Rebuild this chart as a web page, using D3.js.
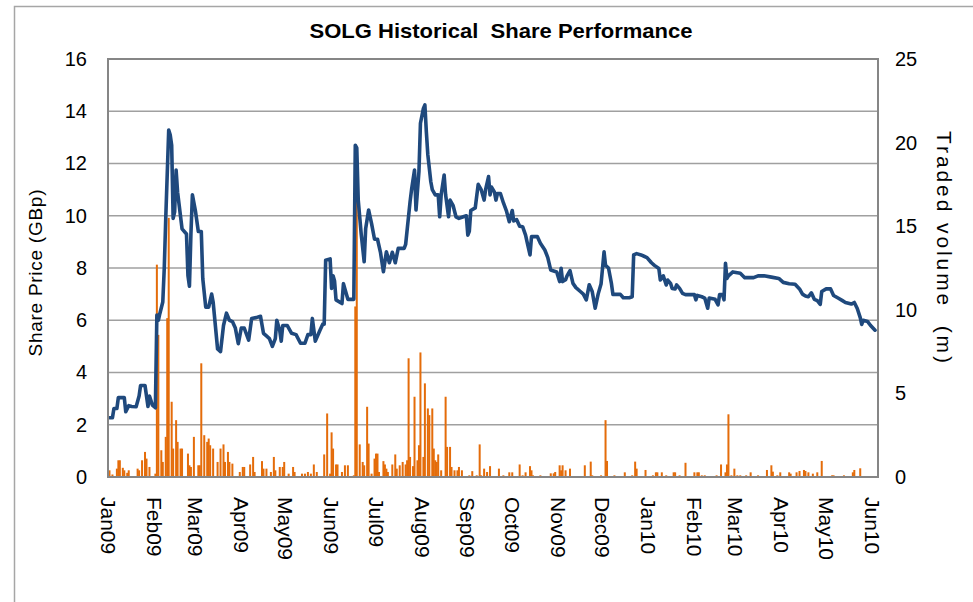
<!DOCTYPE html>
<html><head><meta charset="utf-8">
<script src="https://cdn.jsdelivr.net/npm/d3@7"></script>
<style>
html,body{margin:0;padding:0;background:#fff;}
svg{display:block;}
text{font-family:"Liberation Sans",Arial,sans-serif;fill:#000;white-space:pre;}
</style></head>
<body>
<svg id="c" width="973" height="602"></svg>
<script>
const chartTitle = "SOLG Historical  Share Performance";
const leftTitle = "Share Price (GBp)";
const rightTitle = "Traded volume  (m)";
const priceTicks = [0,2,4,6,8,10,12,14,16];
const volumeTicks = [0,5,10,15,20,25];
const monthTicks = ["2009-01-01","2009-02-01","2009-03-01","2009-04-01","2009-05-01","2009-06-01","2009-07-01","2009-08-01","2009-09-01","2009-10-01","2009-11-01","2009-12-01","2010-01-01","2010-02-01","2010-03-01","2010-04-01","2010-05-01","2010-06-01"];

const priceDates = ["2009-01-02","2009-01-04","2009-01-05","2009-01-07","2009-01-08","2009-01-12","2009-01-13","2009-01-15","2009-01-17","2009-01-20","2009-01-22","2009-01-23","2009-01-26","2009-01-28","2009-01-29","2009-01-31",
"2009-02-02","2009-02-03","2009-02-04","2009-02-05","2009-02-07","2009-02-08","2009-02-09","2009-02-11","2009-02-12","2009-02-13","2009-02-14","2009-02-15","2009-02-16","2009-02-17","2009-02-20","2009-02-23","2009-02-24","2009-02-25","2009-02-26","2009-02-27",
"2009-03-01","2009-03-03","2009-03-05","2009-03-06","2009-03-08","2009-03-10","2009-03-12","2009-03-13","2009-03-16","2009-03-18","2009-03-20","2009-03-22","2009-03-24","2009-03-26","2009-03-28","2009-03-30",
"2009-04-01","2009-04-03","2009-04-06","2009-04-08","2009-04-11","2009-04-14","2009-04-16","2009-04-18","2009-04-20","2009-04-22","2009-04-24","2009-04-25","2009-04-27","2009-04-28","2009-04-29",
"2009-05-02","2009-05-05","2009-05-08","2009-05-11","2009-05-14","2009-05-16","2009-05-18","2009-05-19","2009-05-21","2009-05-24","2009-05-26","2009-05-27","2009-05-28","2009-05-31",
"2009-06-01","2009-06-02","2009-06-03","2009-06-04","2009-06-08","2009-06-09","2009-06-10","2009-06-12","2009-06-16","2009-06-17","2009-06-18","2009-06-19","2009-06-21","2009-06-23","2009-06-24","2009-06-26","2009-06-28","2009-06-30",
"2009-07-02","2009-07-04","2009-07-06","2009-07-08","2009-07-10","2009-07-12","2009-07-14","2009-07-16","2009-07-20","2009-07-21","2009-07-24","2009-07-25","2009-07-27","2009-07-28","2009-07-30","2009-07-31",
"2009-08-02","2009-08-03","2009-08-04","2009-08-05","2009-08-07","2009-08-08","2009-08-10","2009-08-12","2009-08-13","2009-08-14","2009-08-16","2009-08-17","2009-08-19","2009-08-20","2009-08-22","2009-08-24","2009-08-26","2009-08-29","2009-08-31",
"2009-09-01","2009-09-02","2009-09-03","2009-09-06","2009-09-08","2009-09-10","2009-09-12","2009-09-13","2009-09-15","2009-09-16","2009-09-17","2009-09-19","2009-09-20","2009-09-21","2009-09-23","2009-09-25","2009-09-27","2009-09-29",
"2009-10-01","2009-10-02","2009-10-04","2009-10-06","2009-10-08","2009-10-10","2009-10-11","2009-10-13","2009-10-14","2009-10-18","2009-10-20","2009-10-23","2009-10-25","2009-10-27","2009-10-31",
"2009-11-02","2009-11-03","2009-11-04","2009-11-06","2009-11-07","2009-11-09","2009-11-11","2009-11-13","2009-11-16","2009-11-18","2009-11-20","2009-11-22","2009-11-24","2009-11-26","2009-11-28","2009-11-30",
"2009-12-02","2009-12-03","2009-12-05","2009-12-07","2009-12-08","2009-12-13","2009-12-15","2009-12-19","2009-12-21","2009-12-22","2009-12-24","2009-12-27","2009-12-29","2009-12-31",
"2010-01-03","2010-01-05","2010-01-08","2010-01-09","2010-01-11","2010-01-13","2010-01-14","2010-01-16","2010-01-17","2010-01-19","2010-01-20","2010-01-22","2010-01-24","2010-01-26",
"2010-02-01","2010-02-02","2010-02-03","2010-02-06","2010-02-08","2010-02-10","2010-02-11","2010-02-15","2010-02-17","2010-02-18","2010-02-20","2010-02-21","2010-02-22","2010-02-23","2010-02-24","2010-02-27",
"2010-03-04","2010-03-07","2010-03-13","2010-03-16","2010-03-20","2010-03-25","2010-03-30",
"2010-04-02","2010-04-06","2010-04-10","2010-04-13","2010-04-15","2010-04-17","2010-04-19","2010-04-21","2010-04-23","2010-04-25","2010-04-27","2010-04-28",
"2010-05-01","2010-05-04","2010-05-06","2010-05-09","2010-05-12","2010-05-14","2010-05-18","2010-05-20","2010-05-22","2010-05-24","2010-05-25","2010-05-26","2010-05-29","2010-05-31","2010-06-03"];

const priceValues = [2.27,2.27,2.62,2.62,3.04,3.04,2.5,2.73,2.7,2.69,3.1,3.5,3.5,2.7,3.1,2.75,
2.65,6.2,6.0,6.25,6.7,8.0,9.9,13.28,13.1,12.7,9.9,10.15,11.75,10.9,9.5,9.3,7.7,7.3,9.3,10.8,
10.2,9.4,9.4,7.6,6.5,6.5,7.0,6.7,4.9,4.8,5.8,6.27,6.0,5.95,5.7,5.1,
5.7,5.7,5.24,6.07,6.1,6.15,5.5,5.4,5.3,5.0,5.3,6.0,5.6,5.2,5.8,
5.8,5.5,5.45,5.12,5.12,5.45,5.45,6.07,5.2,5.6,5.85,5.85,8.3,8.35,
7.22,7.7,7.5,6.78,6.64,7.4,7.2,6.8,6.8,12.7,12.6,10.6,9.3,8.24,9.5,10.22,9.7,9.1,
9.1,8.6,7.86,8.62,8.2,8.6,8.2,8.75,8.75,8.9,10.54,11.0,11.75,10.22,11.7,13.54,
14.11,14.24,13.2,12.33,11.3,11.0,10.8,10.8,9.96,10.8,11.56,10.8,9.96,10.6,10.4,9.96,9.9,9.96,10.0,
9.26,9.4,10.2,10.3,11.2,11.0,10.6,11.0,11.5,10.8,11.1,10.9,10.6,10.85,10.85,10.5,10.2,9.77,
10.2,9.8,9.85,9.6,9.58,9.26,9.0,8.5,9.2,9.2,8.95,8.69,8.4,7.92,7.85,
7.48,7.99,7.48,7.55,7.7,7.9,7.41,7.25,7.1,7.0,6.78,7.36,7.1,6.46,7.0,7.4,
8.62,8.1,8.0,7.4,6.99,6.99,6.86,6.86,6.9,8.5,8.55,8.5,8.45,8.4,
8.2,8.1,7.98,7.54,7.7,7.35,7.54,7.4,7.22,7.2,7.35,7.22,7.03,6.98,
6.98,6.78,6.95,6.9,6.85,6.46,6.85,6.8,6.59,6.98,6.98,6.78,8.18,7.6,7.7,7.85,
7.8,7.63,7.63,7.7,7.7,7.65,7.6,
7.45,7.4,7.38,7.2,7.0,6.93,6.9,7.05,6.8,6.75,6.61,7.1,
7.2,7.2,6.95,6.85,6.75,6.68,6.62,6.68,6.45,6.1,5.84,6.0,5.95,5.8,5.62];

const volumeDates = ["2009-01-02","2009-01-04","2009-01-07","2009-01-08","2009-01-09","2009-01-11","2009-01-12","2009-01-14","2009-01-15","2009-01-21","2009-01-22","2009-01-24","2009-01-26","2009-01-27","2009-01-29",
"2009-02-02","2009-02-03","2009-02-04","2009-02-06","2009-02-07","2009-02-09","2009-02-10","2009-02-11","2009-02-13","2009-02-14","2009-02-16","2009-02-17","2009-02-19","2009-02-20","2009-02-24","2009-02-25","2009-02-26","2009-02-28",
"2009-03-03","2009-03-04","2009-03-05","2009-03-07","2009-03-09","2009-03-10","2009-03-11","2009-03-13","2009-03-16","2009-03-18","2009-03-20","2009-03-21","2009-03-23","2009-03-24","2009-03-26","2009-03-31",
"2009-04-02","2009-04-03","2009-04-07","2009-04-09","2009-04-10","2009-04-15","2009-04-16","2009-04-18","2009-04-21","2009-04-23","2009-04-24","2009-04-27","2009-04-29","2009-04-30",
"2009-05-03","2009-05-06","2009-05-07","2009-05-12","2009-05-14","2009-05-16","2009-05-18","2009-05-20","2009-05-22","2009-05-27","2009-05-29","2009-05-31",
"2009-06-01","2009-06-02","2009-06-04","2009-06-05","2009-06-08","2009-06-10","2009-06-12","2009-06-16","2009-06-17","2009-06-18","2009-06-20","2009-06-22","2009-06-23","2009-06-25","2009-06-26","2009-06-28","2009-06-30",
"2009-07-01","2009-07-02","2009-07-03","2009-07-06","2009-07-07","2009-07-08","2009-07-09","2009-07-12","2009-07-14","2009-07-15","2009-07-17","2009-07-19","2009-07-21","2009-07-22","2009-07-23","2009-07-24","2009-07-26","2009-07-27","2009-07-29","2009-07-30","2009-07-31",
"2009-08-02","2009-08-03","2009-08-05","2009-08-06","2009-08-08","2009-08-09","2009-08-10","2009-08-11","2009-08-12","2009-08-14","2009-08-17","2009-08-18","2009-08-20","2009-08-21","2009-08-23","2009-08-25","2009-08-26","2009-08-28",
"2009-09-02","2009-09-04","2009-09-07","2009-09-09","2009-09-10","2009-09-12","2009-09-14","2009-09-16","2009-09-22","2009-09-25","2009-09-29",
"2009-10-01","2009-10-06","2009-10-08","2009-10-10","2009-10-13","2009-10-14","2009-10-15","2009-10-20","2009-10-27","2009-10-29","2009-10-30",
"2009-11-02","2009-11-03","2009-11-04","2009-11-06","2009-11-09","2009-11-19","2009-11-23","2009-11-24","2009-11-30",
"2009-12-03","2009-12-04","2009-12-09","2009-12-16","2009-12-21","2009-12-23","2009-12-24","2009-12-30",
"2010-01-04","2010-01-06","2010-01-07","2010-01-10","2010-01-13","2010-01-18","2010-01-19","2010-01-22","2010-01-26",
"2010-02-01","2010-02-03","2010-02-04","2010-02-06","2010-02-08","2010-02-16","2010-02-19","2010-02-22","2010-02-23","2010-02-24","2010-02-26","2010-02-28",
"2010-03-02","2010-03-04","2010-03-08","2010-03-11","2010-03-16","2010-03-22","2010-03-25","2010-03-26","2010-03-29","2010-03-31",
"2010-04-06","2010-04-07","2010-04-11","2010-04-13","2010-04-16","2010-04-17","2010-04-19","2010-04-22","2010-04-25","2010-04-28",
"2010-05-05","2010-05-06","2010-05-13","2010-05-19","2010-05-20","2010-05-24"];

const volumeValues = [0.4,0.15,0.5,1.0,1.0,0.55,0.4,0.25,0.4,0.5,0.4,1.0,1.5,1.1,0.6,
0.2,12.7,8.5,1.6,0.9,2.4,9.5,15.5,4.5,1.7,3.4,2.1,1.7,1.7,1.4,0.7,0.6,2.4,
0.7,0.7,6.8,2.5,2.1,2.3,1.9,1.7,0.9,1.7,1.95,0.9,1.5,0.9,0.8,0.3,
0.6,0.6,0.75,1.2,0.3,0.95,0.5,0.5,0.3,1.2,0.4,0.6,0.6,0.9,
0.2,0.6,0.3,0.2,0.2,0.3,0.2,0.75,0.3,1.35,3.8,0.2,
2.67,1.7,0.75,0.75,0.3,0.7,0.7,0.1,10.2,19.66,1.95,0.9,0.7,4.2,2.0,0.2,1.1,
1.4,1.4,0.3,0.95,0.75,0.5,0.3,0.75,1.35,0.5,0.7,0.9,0.75,1.0,7.1,1.2,0.65,4.8,1.0,1.9,7.45,
1.2,5.6,4.1,3.7,4.1,1.7,1.0,0.9,1.35,0.4,4.8,1.8,1.8,0.6,0.4,0.4,0.6,0.4,
0.1,0.35,0.1,1.95,0.1,0.5,0.3,0.65,0.5,0.1,0.28,
0.28,0.75,0.1,0.28,0.65,0.4,0.1,0.1,0.22,0.22,0.3,
0.7,0.4,0.7,0.4,0.5,0.7,0.92,0.1,0.1,
3.4,0.96,0.1,0.28,0.1,0.92,0.5,0.42,
0.1,0.28,0.28,0.28,0.1,0.28,0.28,0.1,0.85,
0.28,0.28,0.28,0.1,0.1,0.1,0.75,0.28,0.75,3.75,0.1,0.5,
0.1,0.1,0.1,0.28,0.1,0.42,0.7,0.32,0.1,0.28,
0.28,0.2,0.28,0.36,0.42,0.36,0.28,0.2,0.28,0.96,
0.1,0.1,0.1,0.28,0.42,0.52];

const parse = d3.utcParse("%Y-%m-%d");
const price = priceDates.map((d,i)=>({date:parse(d), v:priceValues[i]}));
const volume = volumeDates.map((d,i)=>({date:parse(d), v:volumeValues[i]}));
const months = monthTicks.map(parse);

const L = 108, R = 878, T = 59, B = 477;
const svg = d3.select("#c");

const x = d3.scaleUtc().domain([parse("2009-01-01"), parse("2010-06-05")]).range([L, R]);
const yL = d3.scaleLinear().domain([0,16]).range([B, T]);
const yR = d3.scaleLinear().domain([0,25]).range([B, T]);

// outer frame
svg.append("rect").attr("x",14.5).attr("y",6.5).attr("width",980).attr("height",620)
  .attr("fill","none").attr("stroke","#a6a6a6").attr("stroke-width",1.5);

// title
svg.append("text").attr("x",501).attr("y",38).attr("text-anchor","middle")
  .attr("textLength",383).attr("lengthAdjust","spacingAndGlyphs")
  .style("font-size","21px").style("font-weight","bold").text(chartTitle);

// gridlines
svg.append("g").selectAll("line").data(priceTicks.slice(1)).join("line")
  .attr("x1",L).attr("x2",R).attr("y1",d=>yL(d)).attr("y2",d=>yL(d))
  .attr("stroke","#a0a0a0").attr("stroke-width",1.6);

// volume bars
svg.append("g").selectAll("rect").data(volume).join("rect")
  .attr("x",d=>x(d.date)-1).attr("width",2)
  .attr("y",d=>yR(d.v)).attr("height",d=>B-yR(d.v))
  .attr("fill","#e46c0a");

// price line
svg.append("path").datum(price)
  .attr("d", d3.line().x(d=>x(d.date)).y(d=>yL(d.v)))
  .attr("fill","none").attr("stroke","#1f497d").attr("stroke-width",3.6)
  .attr("stroke-linejoin","round").attr("stroke-linecap","round");

// plot border
svg.append("rect").attr("x",L).attr("y",T).attr("width",R-L).attr("height",B-T)
  .attr("fill","none").attr("stroke","#868686").attr("stroke-width",2);

// left axis
const axL = svg.append("g").attr("transform",`translate(${L-21},0)`)
  .call(d3.axisLeft(yL).tickValues(priceTicks).tickSize(0).tickPadding(0).tickFormat(d3.format("d")));
axL.select(".domain").remove();
axL.selectAll("text").style("font-size","20px").style("font-family","'Liberation Sans',Arial,sans-serif").attr("fill","#000");

// right axis
const axR = svg.append("g").attr("transform",`translate(${R+17},0)`)
  .call(d3.axisRight(yR).tickValues(volumeTicks).tickSize(0).tickPadding(0).tickFormat(d3.format("d")));
axR.select(".domain").remove();
axR.selectAll("text").style("font-size","20px").style("font-family","'Liberation Sans',Arial,sans-serif").attr("fill","#000");

// bottom axis labels (rotated)
const fmt = d3.utcFormat("%b%y");
svg.append("g").selectAll("text").data(months).join("text")
  .attr("transform",d=>`translate(${x(d)},497) rotate(90)`)
  .attr("dy","0.35em").attr("text-anchor","start")
  .style("font-size","21px").text(d=>fmt(d));

// axis titles
svg.append("text").attr("transform","translate(42,273) rotate(-90)")
  .attr("text-anchor","middle").attr("textLength",167).attr("lengthAdjust","spacing")
  .style("font-size","19px").text(leftTitle);
svg.append("text").attr("transform","translate(937,247) rotate(90)")
  .attr("text-anchor","middle").attr("textLength",232).attr("lengthAdjust","spacing")
  .style("font-size","21px").text(rightTitle);
</script>
</body></html>
